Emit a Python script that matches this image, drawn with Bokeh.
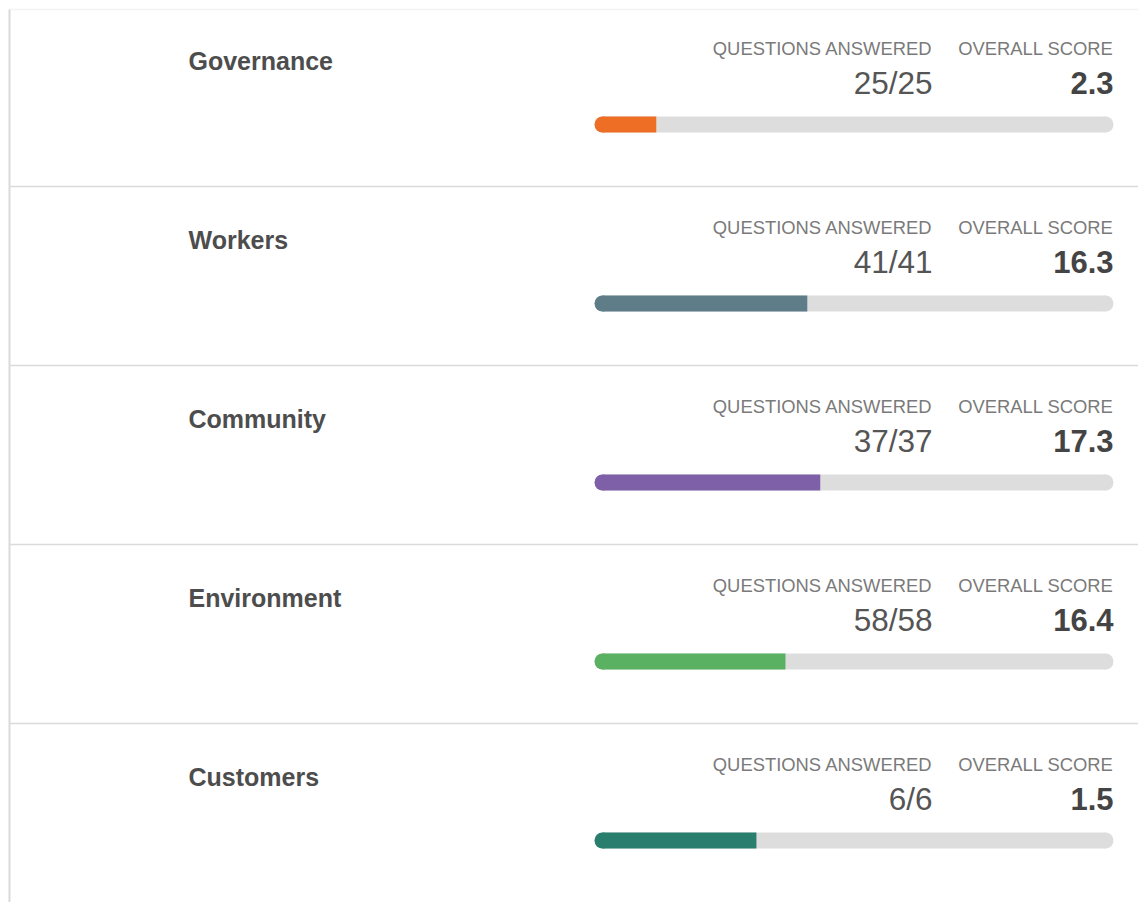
from bokeh.plotting import figure
from bokeh.models import ColumnDataSource, Range1d
from bokeh.core.properties import value
from bokeh.embed import file_html
from bokeh.resources import INLINE

categories = ["Governance", "Workers", "Community", "Environment", "Customers"]
answered = [25, 41, 37, 58, 6]
total_q = [25, 41, 37, 58, 6]
scores = [2.3, 16.3, 17.3, 16.4, 1.5]
fill_frac = [0.119, 0.41, 0.435, 0.368, 0.312]
colors = ["#EE6E26", "#5F7D89", "#7E60A9", "#5BB162", "#297E6E"]

W, H = 1138, 902
FONT = value("Liberation Sans")

p = figure(width=W, height=H, output_backend="svg", toolbar_location=None,
           x_range=Range1d(0, W), y_range=Range1d(H, 0), min_border=0)
p.axis.visible = False
p.grid.visible = False
p.outline_line_color = None
p.background_fill_color = "white"
p.border_fill_color = "white"

ROW = 179
TOP = 9
BX0, BX1 = 594, 1113
BR = 8

n = len(categories)
rows = list(range(n))
ybase = [TOP + i * ROW for i in rows]

# frame lines
p.segment(x0=[9], y0=[TOP], x1=[W], y1=[TOP], line_color="#f2f2f2", line_width=1.5)
p.segment(x0=[9], y0=[TOP], x1=[9], y1=[H], line_color="#dadada", line_width=2)
sep_y = [TOP + (i + 1) * ROW - 2 for i in range(n - 1)]
p.segment(x0=[9] * len(sep_y), y0=sep_y, x1=[W] * len(sep_y), y1=sep_y,
          line_color="#dadada", line_width=1.5)

bar_y = [y + 115 for y in ybase]
fill_end = [BX0 + f * (BX1 - BX0) for f in fill_frac]

# tracks
p.hbar(y=bar_y, left=[BX0 + BR] * n, right=[BX1 - BR] * n, height=2 * BR,
       fill_color="#dddddd", line_color=None)
p.scatter(x=[BX0 + BR] * n + [BX1 - BR] * n, y=bar_y + bar_y, size=2 * BR,
          marker="circle", fill_color="#dddddd", line_color=None)

# fills
src = ColumnDataSource(dict(y=bar_y, left=[BX0 + BR] * n, right=fill_end,
                            cx=[BX0 + BR] * n, color=colors))
p.hbar(y="y", left="left", right="right", height=2 * BR, fill_color="color",
       line_color=None, source=src)
p.scatter(x="cx", y="y", size=2 * BR, marker="circle", fill_color="color",
          line_color=None, source=src)

# texts
p.text(x=[188] * n, y=[y + 51 for y in ybase], text=categories, text_font=FONT,
       text_font_size="25px", text_font_style="bold", text_color="#4d4d4d",
       text_baseline="middle", text_align="left")

p.text(x=[932] * n, y=[y + 39 for y in ybase], text=["QUESTIONS ANSWERED"] * n,
       text_font=FONT, text_font_size="18.4px", text_color="#7a7a7a",
       text_baseline="middle", text_align="right")
p.text(x=[1113] * n, y=[y + 39 for y in ybase], text=["OVERALL SCORE"] * n,
       text_font=FONT, text_font_size="18.4px", text_color="#7a7a7a",
       text_baseline="middle", text_align="right")

p.text(x=[932] * n, y=[y + 73 for y in ybase],
       text=[f"{a}/{t}" for a, t in zip(answered, total_q)],
       text_font=FONT, text_font_size="31.5px", text_color="#555555",
       text_baseline="middle", text_align="right")
p.text(x=[1113] * n, y=[y + 73 for y in ybase], text=[f"{s:.1f}" for s in scores],
       text_font=FONT, text_font_size="31px", text_font_style="bold",
       text_color="#444444", text_baseline="middle", text_align="right")

open("out.html", "w").write(file_html(p, INLINE))
